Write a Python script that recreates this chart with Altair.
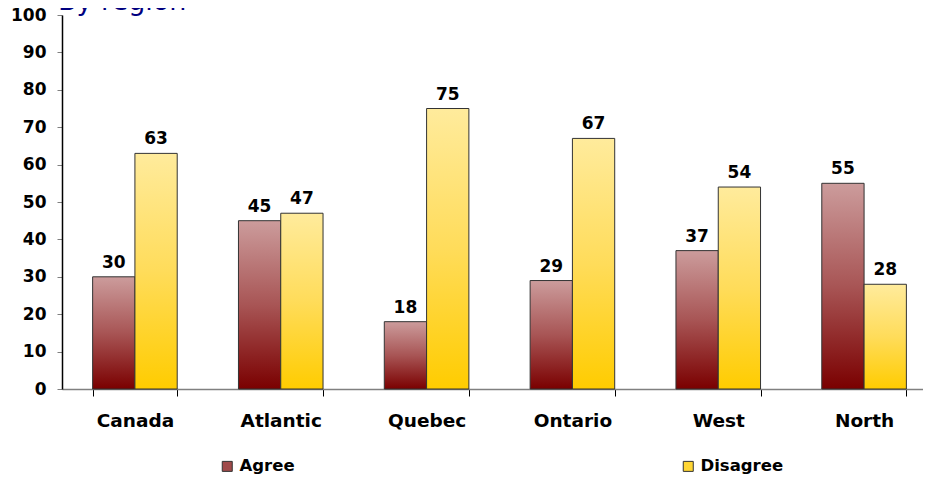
import altair as alt
import pandas as pd

regions = ["Canada", "Atlantic", "Quebec", "Ontario", "West", "North"]
agree = [30, 45, 18, 29, 37, 55]
disagree = [63, 47, 75, 67, 54, 28]
series = ["Agree", "Disagree"]
y_ticks = [0, 10, 20, 30, 40, 50, 60, 70, 80, 90, 100]
title_text = "By region"

rows = []
for r, a, d in zip(regions, agree, disagree):
    rows.append({"region": r, "series": "Agree", "value": a})
    rows.append({"region": r, "series": "Disagree", "value": d})
df = pd.DataFrame(rows)

FONT = "DejaVu Sans"

x_enc = alt.X("region:N", sort=regions, title=None,
              scale=alt.Scale(paddingInner=0.42, paddingOuter=0.21, range=[0, 875]),
              axis=alt.Axis(labelFont=FONT, labelFontSize=18.5, labelFontWeight="bold",
                            labelColor="black", labelAngle=0, labelPadding=15,
                            tickBand="extent", tickSize=7, tickColor="black",
                            domainColor="#808080", domainWidth=1.5))
y_enc = alt.Y("value:Q", title=None,
              scale=alt.Scale(domain=[0, 100], nice=False),
              axis=alt.Axis(values=y_ticks, labelFont=FONT, labelFontSize=17,
                            labelFontWeight="bold", labelColor="black",
                            labelPadding=11, tickSize=5, tickColor="#808080",
                            domainColor="black", domainWidth=1.5, grid=False))
xo_enc = alt.XOffset("series:N", scale=alt.Scale(domain=series))

base = alt.Chart(df).encode(x=x_enc, y=y_enc, xOffset=xo_enc)

grad_agree = alt.Gradient(
    gradient="linear", x1=0, y1=1, x2=0, y2=0,
    stops=[alt.GradientStop(color="#7a0000", offset=0),
           alt.GradientStop(color="#a85555", offset=0.5),
           alt.GradientStop(color="#cc9c9c", offset=1)])
grad_dis = alt.Gradient(
    gradient="linear", x1=0, y1=1, x2=0, y2=0,
    stops=[alt.GradientStop(color="#ffcc00", offset=0),
           alt.GradientStop(color="#ffdc5a", offset=0.5),
           alt.GradientStop(color="#ffeb9c", offset=1)])

bars_a = base.transform_filter(alt.datum.series == "Agree").mark_bar(
    fill=grad_agree, stroke="#333333", strokeWidth=1)
bars_d = base.transform_filter(alt.datum.series == "Disagree").mark_bar(
    fill=grad_dis, stroke="#333333", strokeWidth=1)

labels = base.mark_text(font=FONT, fontSize=17, fontWeight="bold", color="black",
                        baseline="alphabetic", dy=-9).encode(text="value:Q")

legend_layer = base.mark_square(opacity=0, size=1).encode(
    color=alt.Color("series:N", scale=alt.Scale(domain=series, range=["#a04a4a", "#ffd633"]),
                    legend=alt.Legend(title=None, orient="none", legendX=157, legendY=443,
                                      direction="horizontal", columnPadding=385,
                                      symbolType="square", symbolSize=100,
                                      symbolOpacity=1, symbolStrokeColor="#333333",
                                      symbolStrokeWidth=1, labelFont=FONT,
                                      labelFontSize=16.5, labelFontWeight="bold",
                                      labelColor="black", labelOffset=4)))

title_layer = alt.Chart(pd.DataFrame({"t": [title_text]})).mark_text(
    font=FONT, fontSize=27, color="#000080", align="left", baseline="alphabetic"
).encode(text="t:N", x=alt.value(-4), y=alt.value(-5))

chart = alt.layer(bars_a, bars_d, labels, legend_layer, title_layer).properties(
    width=861, height=374,
    autosize=alt.AutoSizeParams(type="none"),
    padding={"left": 54, "top": 7, "right": 0, "bottom": 86},
).configure_view(stroke=None)

chart.save("out.html", embed_options={"renderer": "svg", "actions": False})
